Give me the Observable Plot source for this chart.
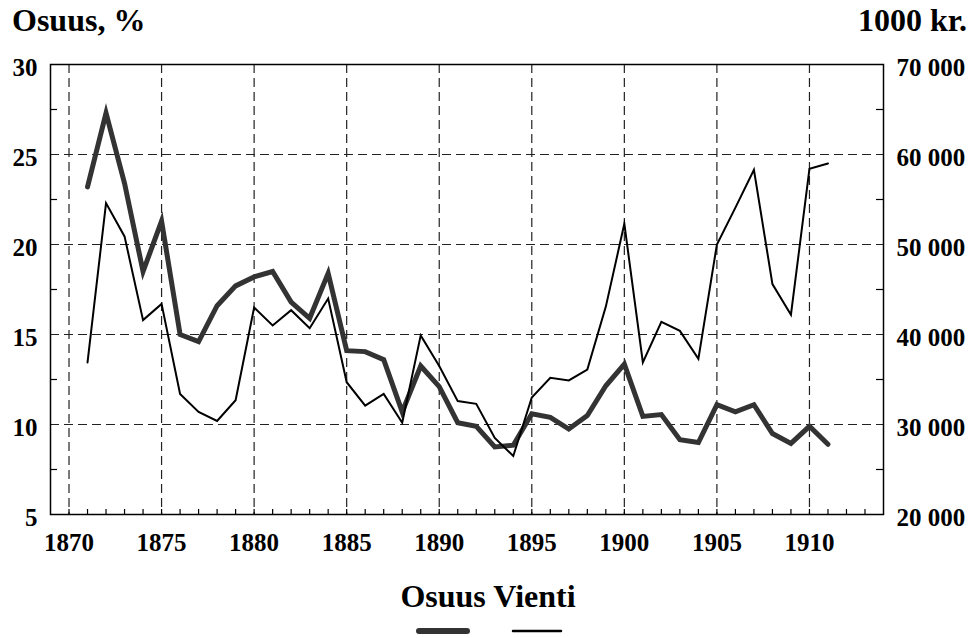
<!DOCTYPE html>
<html>
<head>
<meta charset="utf-8">
<script src="https://cdn.jsdelivr.net/npm/d3@7"></script>
<script src="https://cdn.jsdelivr.net/npm/@observablehq/plot@0.6"></script>
<style>
  html, body { margin: 0; padding: 0; background: #fff; }
  #wrap { position: relative; width: 972px; height: 638px; overflow: hidden; }
  #overlay { position: absolute; left: 0; top: 0; pointer-events: none; }
  text { font-family: "Liberation Serif", "Times New Roman", serif !important; font-weight: bold !important; }
</style>
</head>
<body>
<div id="wrap"></div>
<script>
// ---- data ----
const years = [1871,1872,1873,1874,1875,1876,1877,1878,1879,1880,
               1881,1882,1883,1884,1885,1886,1887,1888,1889,1890,
               1891,1892,1893,1894,1895,1896,1897,1898,1899,1900,
               1901,1902,1903,1904,1905,1906,1907,1908,1909,1910,1911];
// Osuus, % (left axis)
const osuus = [23.2,27.3,23.4,18.5,21.3,15.0,14.6,16.6,17.7,18.2,
               18.5,16.8,15.9,18.4,14.1,14.05,13.6,10.7,13.25,12.1,
               10.1,9.9,8.75,8.85,10.6,10.4,9.75,10.5,12.15,13.35,
               10.45,10.55,9.15,9.0,11.1,10.7,11.1,9.5,8.95,9.9,8.9];
// Vienti, 1000 kr. (right axis)
const vienti = [36900,54600,50900,41600,43400,33400,31400,30400,32700,43000,
                41000,42700,40700,44000,34700,32100,33400,30200,39900,36500,
                32600,32300,28500,26500,33000,35200,34900,36100,43100,52300,
                36900,41400,40400,37300,50000,54100,58300,45600,42200,58400,59000];
const leftTicks = [5,10,15,20,25,30];
const rightTickLabels = ["20 000","30 000","40 000","50 000","60 000","70 000"];
const xTicks = [1870,1875,1880,1885,1890,1895,1900,1905,1910];
const seriesNames = ["Osuus","Vienti"];
const titleLeft = "Osuus, %";
const titleRight = "1000 kr.";

// map right axis values (1000 kr.) onto left scale
const rightToLeft = v => 5 + (v - 20000) / 2000;

const osuusData = years.map((y, i) => ({year: y, value: osuus[i]}));
const vientiData = years.map((y, i) => ({year: y, value: rightToLeft(vienti[i])}));
const minorY = [7.5,12.5,17.5,22.5,27.5];
const minorX = d3.range(1870, 1914);

const W = 972, H = 560;
const mL = 50, mR = 89, mT = 64, mB = 46;
const plotW = W - mL - mR, plotH = H - mT - mB;
const grid = {stroke: "#222", strokeWidth: 1.2, strokeDasharray: "9,5"};

const chart = Plot.plot({
  width: W, height: H,
  marginLeft: mL, marginRight: mR, marginTop: mT, marginBottom: mB,
  style: {fontFamily: "Liberation Serif, serif", fontWeight: "bold", fontSize: "25px", color: "#000", background: "#fff"},
  x: {domain: [1869, 1914]},
  y: {domain: [5, 30]},
  marks: [
    Plot.ruleX(xTicks, {...grid}),
    Plot.ruleY([10,15,20,25], {...grid}),
    Plot.tickY(minorY, {y: d => d, insetRight: plotW - 7, stroke: "#000", strokeWidth: 1.2}),
    Plot.tickY(minorY, {y: d => d, insetLeft: plotW - 7, stroke: "#000", strokeWidth: 1.2}),
    Plot.tickX(minorX, {x: d => d, insetTop: plotH - 5, stroke: "#000", strokeWidth: 1.2}),
    Plot.lineY(osuusData, {x: "year", y: "value", stroke: "#333", strokeWidth: 5, strokeLinejoin: "miter", strokeMiterlimit: 10}),
    Plot.lineY(vientiData, {x: "year", y: "value", stroke: "#000", strokeWidth: 2, strokeLinejoin: "miter", strokeMiterlimit: 10}),
    Plot.frame({stroke: "#000", strokeWidth: 1.5}),
    Plot.axisX({ticks: xTicks, tickFormat: d => String(d), tickSize: 0, tickPadding: 19, label: null, fontSize: 25, fill: "#000"}),
    Plot.axisY({anchor: "left", ticks: leftTicks, tickFormat: d => String(d), tickSize: 0, tickPadding: 13, dy: 3, label: null, fontSize: 25, fill: "#000"}),
    Plot.axisY({anchor: "right", ticks: leftTicks, tickFormat: d => rightTickLabels[leftTicks.indexOf(d)], tickSize: 0, tickPadding: 13, dy: 3, label: null, fontSize: 25, fill: "#000"})
  ]
});

const wrap = document.getElementById("wrap");
wrap.appendChild(chart);

// titles and legend overlay
const ns = "http://www.w3.org/2000/svg";
const ov = document.createElementNS(ns, "svg");
ov.setAttribute("id", "overlay");
ov.setAttribute("width", 972);
ov.setAttribute("height", 638);
function addText(str, x, y, anchor, size) {
  const t = document.createElementNS(ns, "text");
  t.setAttribute("x", x); t.setAttribute("y", y);
  t.setAttribute("text-anchor", anchor);
  t.setAttribute("font-size", size);
  t.setAttribute("fill", "#000");
  t.textContent = str;
  ov.appendChild(t);
}
function addLine(x1, x2, y, w, c) {
  const l = document.createElementNS(ns, "line");
  l.setAttribute("x1", x1); l.setAttribute("x2", x2);
  l.setAttribute("y1", y); l.setAttribute("y2", y);
  l.setAttribute("stroke", c); l.setAttribute("stroke-width", w);
  l.setAttribute("stroke-linecap", "round");
  ov.appendChild(l);
}
addText(titleLeft, 12, 31, "start", 32);
addText(titleRight, 967, 31, "end", 32);
addText(seriesNames.join(" "), 488, 607, "middle", 32);
addLine(419, 467, 631, 6, "#333");
addLine(513, 561, 631, 2.5, "#000");
wrap.appendChild(ov);
</script>
</body>
</html>
